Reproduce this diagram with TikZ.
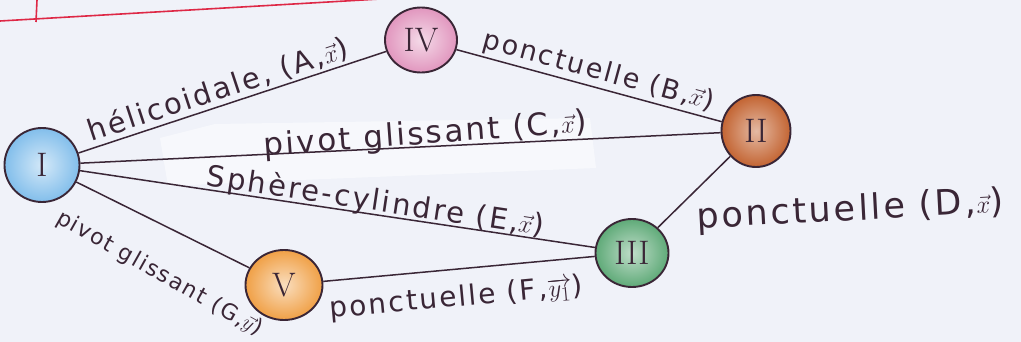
\documentclass[tikz,border=0pt]{standalone}
\usepackage{fontspec}
\newfontfamily\hand[LetterSpace=8]{DejaVu Sans}
\usetikzlibrary{shapes.geometric}
\definecolor{paper}{RGB}{240,242,249}
\definecolor{ink}{RGB}{58,38,54}
\definecolor{redline}{RGB}{222,40,70}
\definecolor{cI}{RGB}{130,190,235}
\definecolor{cIV}{RGB}{225,150,190}
\definecolor{cII}{RGB}{195,100,50}
\definecolor{cIII}{RGB}{95,170,120}
\definecolor{cV}{RGB}{240,160,70}
\begin{document}
\begin{tikzpicture}[x=1pt,y=-1pt,
  link/.style={draw=ink, line width=1.5pt},
  piece/.style={draw=ink, line width=1.9pt, ellipse, inner sep=0pt,
    font=\fontsize{34}{34}\selectfont\rmfamily, text=ink},
  lab/.style={text=ink, inner sep=2pt},
  fs/.style={font=\hand\fontsize{#1}{#1}\selectfont}]
\fill[paper] (0,0) rectangle (1021,342);
\useasboundingbox (0,0) rectangle (1021,342);
% red margin lines
\draw[redline, line width=1.6pt] (0,21) -- (380,-1);
\draw[redline, line width=1.6pt] (37,0) -- (36,22);
% correction tape patch
\fill[white, opacity=0.5] (160,138) -- (215,124) -- (590,118) -- (596,168) -- (300,180) -- (168,186) -- cycle;
% pieces
\node[piece, minimum width=75pt, minimum height=74pt, inner color=cI!35, outer color=cI] (I) at (42,165) {I};
\node[piece, minimum width=72pt, minimum height=65pt, inner color=cIV!35, outer color=cIV] (IV) at (421,40) {IV};
\node[piece, minimum width=69pt, minimum height=72pt, inner color=cII!45, outer color=cII] (II) at (756,131) {II};
\node[piece, minimum width=73pt, minimum height=68pt, inner color=cIII!40, outer color=cIII] (III) at (632,253) {III};
\node[piece, minimum width=77pt, minimum height=70pt, inner color=cV!35, outer color=cV] (V) at (284,285) {V};
% links
\draw[link] (I) -- node[lab, fs=29, sloped, above, pos=0.47] {hélicoidale, (A,$\vec{x}$)} (IV);
\draw[link] (IV) -- node[lab, fs=27, sloped, above, pos=0.52] {ponctuelle (B,$\vec{x}$)} (II);
\draw[link] (I) -- node[lab, fs=31, sloped, anchor=base, yshift=3pt, rotate=1.5, pos=0.54] {pivot glissant (C,$\vec{x}$)} (II);
\draw[link] (I) -- node[lab, fs=29, sloped, anchor=base, yshift=4pt, pos=0.57] {Sphère-cylindre (E,$\vec{x}$)} (III);
\draw[link] (I) -- node[lab, fs=22, sloped, below=32pt, rotate=-3, pos=0.6] {pivot glissant (G,$\vec{y}$)} (V);
\draw[link] (V) -- node[lab, fs=28, sloped, below=13pt, pos=0.48] {ponctuelle (F,$\overrightarrow{y_1}$)} (III);
\draw[link] (III) -- node[lab, fs=35, anchor=west, yshift=-27pt, rotate=3, pos=0.5] {ponctuelle (D,$\vec{x}$)} (II);
\end{tikzpicture}
\end{document}
